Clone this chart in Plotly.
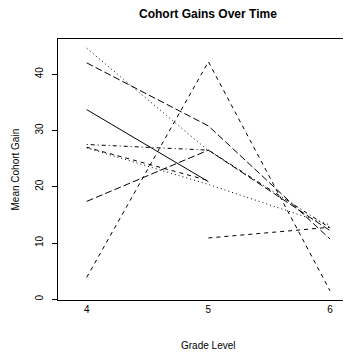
import plotly.graph_objects as go

grades = [4, 5, 6]

cohort_names = ["C1", "C2", "C3", "C4", "C5", "C6", "C7", "C8", "C9"]
c1 = [33.7, 20.9, None]
c2 = [42.0, 30.8, 10.7]
c3 = [44.6, 26.4, None]
c4 = [27.5, 26.5, 12.7]
c5 = [27.0, 21.1, None]
c6 = [26.9, 20.4, 13.2]
c7 = [17.4, 26.5, 12.2]
c8 = [3.9, 42.2, 1.5]
c9 = [None, 10.9, 12.8]
series = [c1, c2, c3, c4, c5, c6, c7, c8, c9]

dashes = ["solid", "7px,3px", "1px,3px", "1px,3px,4px,3px", "4px,4px",
          "1px,3px", "7px,3px", "4px,4px", "4px,4px"]

y_ticks = [0, 10, 20, 30, 40]
x_ticks = [4, 5, 6]

FONT = "Liberation Sans, Arial, Helvetica, sans-serif"

fig = go.Figure()
for name, vals, d in zip(cohort_names, series, dashes):
    fig.add_trace(go.Scatter(x=grades, y=vals, mode="lines", name=name,
                             line=dict(color="black", width=1, dash=d),
                             connectgaps=False, showlegend=False))

# page body has an 8px margin; compensate
OFF = 8
W, H = 351 - OFF, 356 - OFF
L, R, T, B = 58 - OFF, 0, 39 - OFF, 56
pw = W - L - R
ph = H - T - B

fig.update_layout(
    width=W, height=H,
    margin=dict(l=L, r=R, t=T, b=B, pad=0),
    paper_bgcolor="white", plot_bgcolor="white",
    font=dict(family=FONT, size=10, color="black"),
    showlegend=False,
    xaxis=dict(range=[3.764, 6.172], tickvals=x_ticks, ticktext=[str(v) for v in x_ticks],
               showgrid=False, zeroline=False, showline=True, linecolor="black",
               linewidth=1, mirror=True, ticks="", ticklen=0, ticklabelstandoff=0,
               tickfont=dict(size=10, family=FONT, color="black")),
    yaxis=dict(range=[-0.12, 46.24], tickvals=y_ticks, ticktext=[str(v) for v in y_ticks],
               showgrid=False, zeroline=False, showline=True, linecolor="black",
               linewidth=1, ticks="outside", ticklen=5, tickcolor="black", tickwidth=1,
               tickangle=-90, ticklabelstandoff=5,
               tickfont=dict(size=10, family=FONT, color="black")),
    annotations=[
        dict(text="<b>Cohort Gains Over Time</b>", xref="paper", yref="paper",
             x=(208 - 58) / pw, y=1 + (39 - 13.5) / ph, xanchor="center", yanchor="middle",
             showarrow=False, font=dict(size=12, family=FONT, color="black")),
        dict(text="Grade Level", xref="paper", yref="paper",
             x=(208 - 58) / pw, y=-(345 - 300) / ph, xanchor="center", yanchor="middle",
             showarrow=False, font=dict(size=10, family=FONT, color="black")),
        dict(text="Mean Cohort Gain", xref="paper", yref="paper",
             x=(15 - 58) / pw, y=0.5, xanchor="center", yanchor="middle", textangle=-90,
             showarrow=False, font=dict(size=10, family=FONT, color="black")),
    ],
)

fig.write_html("out.html")
